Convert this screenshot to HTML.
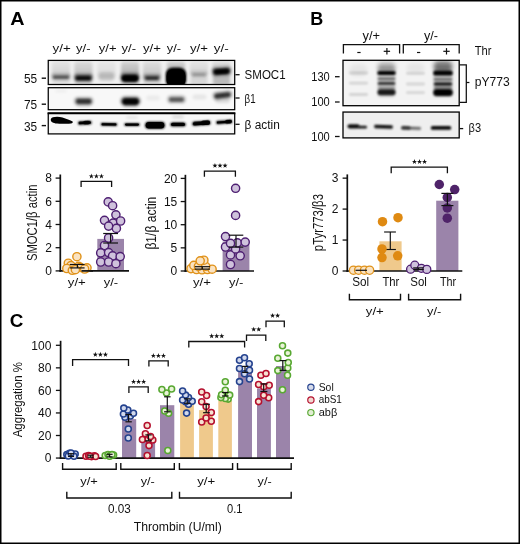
<!DOCTYPE html>
<html><head><meta charset="utf-8"><title>Figure</title>
<style>html,body{margin:0;padding:0;background:#fff;}svg{display:block;will-change:transform;font-family:'Liberation Sans', sans-serif;}</style>
</head><body>
<svg width="520" height="544" viewBox="0 0 520 544">
<defs>
<filter id="b05" x="-50%" y="-100%" width="200%" height="300%"><feGaussianBlur stdDeviation="0.5"/></filter>
<filter id="b08" x="-50%" y="-100%" width="200%" height="300%"><feGaussianBlur stdDeviation="0.8"/></filter>
<filter id="b1" x="-50%" y="-100%" width="200%" height="300%"><feGaussianBlur stdDeviation="1.0"/></filter>
<filter id="b15" x="-50%" y="-100%" width="200%" height="300%"><feGaussianBlur stdDeviation="1.5"/></filter>
<filter id="b2" x="-50%" y="-100%" width="200%" height="300%"><feGaussianBlur stdDeviation="2.0"/></filter>
<filter id="b3" x="-50%" y="-100%" width="200%" height="300%"><feGaussianBlur stdDeviation="3.0"/></filter>
<clipPath id="cA1"><rect x="48.25" y="60.4" width="186.45" height="24.1"/></clipPath>
<clipPath id="cA2"><rect x="48.25" y="87.7" width="186.45" height="22"/></clipPath>
<clipPath id="cA3"><rect x="48.25" y="113" width="186.45" height="20.9"/></clipPath>
<clipPath id="cB1"><rect x="343" y="60.3" width="116.2" height="45.4"/></clipPath>
<clipPath id="cB2"><rect x="343" y="112.05" width="116.2" height="25.85"/></clipPath>
<linearGradient id="sg" x1="0" y1="0" x2="0" y2="1"><stop offset="0" stop-color="#000" stop-opacity="0.25"/><stop offset="0.55" stop-color="#000" stop-opacity="0.45"/><stop offset="1" stop-color="#000" stop-opacity="1"/></linearGradient>
</defs>
<rect x="0" y="0" width="520" height="544" fill="#fff"/>
<rect x="48.25" y="60.4" width="186.45" height="24.1" fill="#f0f0f0" stroke="none" stroke-width="0"/>
<g clip-path="url(#cA1)">
<rect x="52" y="61.5" width="18" height="16.0" rx="3" fill="url(#sg)" opacity="0.22" filter="url(#b15)"/>
<rect x="74.4" y="61.5" width="18" height="17.0" rx="3" fill="url(#sg)" opacity="0.36" filter="url(#b15)"/>
<rect x="97.5" y="61.5" width="18" height="17.0" rx="3" fill="url(#sg)" opacity="0.14" filter="url(#b15)"/>
<rect x="121" y="61.5" width="18" height="17.0" rx="3" fill="url(#sg)" opacity="0.5" filter="url(#b15)"/>
<rect x="143" y="61.5" width="18" height="17.0" rx="3" fill="url(#sg)" opacity="0.3" filter="url(#b15)"/>
<rect x="167" y="61.5" width="18" height="15.5" rx="3" fill="url(#sg)" opacity="0.5" filter="url(#b15)"/>
<rect x="190" y="61.5" width="18" height="14.0" rx="3" fill="url(#sg)" opacity="0.2" filter="url(#b15)"/>
<rect x="212.5" y="61.5" width="18" height="10.5" rx="3" fill="url(#sg)" opacity="0.3" filter="url(#b15)"/>
<rect x="52.5" y="78.0" width="17" height="7" rx="2" fill="#000" opacity="0.06" filter="url(#b15)"/>
<rect x="74.9" y="79.0" width="17" height="6" rx="2" fill="#000" opacity="0.12" filter="url(#b15)"/>
<rect x="121.5" y="79.0" width="17" height="6" rx="2" fill="#000" opacity="0.15" filter="url(#b15)"/>
<rect x="143.5" y="79.0" width="17" height="6" rx="2" fill="#000" opacity="0.1" filter="url(#b15)"/>
<rect x="190.5" y="76.0" width="17" height="9" rx="2" fill="#000" opacity="0.1" filter="url(#b15)"/>
<rect x="213.0" y="73.0" width="17" height="12" rx="2" fill="#000" opacity="0.22" filter="url(#b15)"/>
<rect x="51.25" y="74.05" width="19.5" height="6.1" rx="3.05" fill="#000" opacity="0.275" filter="url(#b15)"/>
<rect x="53.25" y="76.0" width="15.5" height="2.5999999999999996" rx="1.2999999999999998" fill="#000" opacity="0.5" filter="url(#b08)"/>
<rect x="73.9" y="74.35" width="19.0" height="7.3" rx="3.65" fill="#000" opacity="0.5060000000000001" filter="url(#b15)"/>
<rect x="75.9" y="76.3" width="15.0" height="3.8" rx="1.9" fill="#000" opacity="0.92" filter="url(#b08)"/>
<rect x="99.0" y="72.0" width="15" height="9" rx="3" fill="#000" opacity="0.13" filter="url(#b15)"/>
<rect x="120.25" y="73.5" width="19.5" height="9.2" rx="4.6" fill="#000" opacity="0.55" filter="url(#b15)"/>
<rect x="122.25" y="75.45" width="15.5" height="5.7" rx="2.85" fill="#000" opacity="1" filter="url(#b08)"/>
<rect x="122.5" y="76.05" width="15" height="4.5" rx="2.25" fill="#000" opacity="0.9" filter="url(#b08)"/>
<rect x="143.5" y="74.75" width="17.0" height="6.3" rx="3.15" fill="#000" opacity="0.396" filter="url(#b15)"/>
<rect x="145.5" y="76.7" width="13.0" height="2.8" rx="1.4" fill="#000" opacity="0.72" filter="url(#b08)"/>
<rect x="165.75" y="67.5" width="20.5" height="20" rx="7" fill="#000" opacity="1" filter="url(#b1)"/>
<rect x="166.5" y="69.0" width="19" height="18" rx="7" fill="#000" opacity="1" filter="url(#b05)"/>
<rect x="190.25" y="71.25" width="17.5" height="6.5" rx="3.25" fill="#000" opacity="0.099" filter="url(#b15)"/>
<rect x="192.25" y="73.2" width="13.5" height="3" rx="1.5" fill="#000" opacity="0.18" filter="url(#b08)"/>
<rect x="211.75" y="67.35000000000001" width="19.5" height="8.1" rx="4.05" fill="#000" opacity="0.5335" filter="url(#b15)" transform="rotate(-4 221.5 71.4)"/>
<rect x="213.75" y="69.30000000000001" width="15.5" height="4.6" rx="2.3" fill="#000" opacity="0.97" filter="url(#b08)" transform="rotate(-4 221.5 71.60000000000001)"/>
<rect x="214.5" y="69.65" width="14" height="3.5" rx="1.75" fill="#000" opacity="0.7" filter="url(#b08)" transform="rotate(-4 221.5 71.4)"/>
</g>
<rect x="48.25" y="60.4" width="186.45" height="24.1" fill="none" stroke="#000" stroke-width="1.25"/>
<rect x="48.25" y="87.7" width="186.45" height="22.0" fill="#f8f8f8" stroke="none" stroke-width="0"/>
<g clip-path="url(#cA2)">
<rect x="74.2" y="97.15" width="19.0" height="8.1" rx="4.05" fill="#000" opacity="0.37400000000000005" filter="url(#b15)"/>
<rect x="76.2" y="99.10000000000001" width="15.0" height="4.6" rx="2.3" fill="#000" opacity="0.68" filter="url(#b08)"/>
<rect x="120.5" y="96.45" width="20.0" height="9.5" rx="4.75" fill="#000" opacity="0.5225" filter="url(#b15)"/>
<rect x="122.5" y="98.4" width="16.0" height="6" rx="3.0" fill="#000" opacity="0.95" filter="url(#b08)"/>
<rect x="123.5" y="99.4" width="14" height="4" rx="2.0" fill="#000" opacity="0.5" filter="url(#b08)"/>
<rect x="167.25" y="95.45" width="18.5" height="7.9" rx="3.95" fill="#000" opacity="0.275" filter="url(#b15)"/>
<rect x="169.25" y="97.4" width="14.5" height="4.4" rx="2.2" fill="#000" opacity="0.5" filter="url(#b08)"/>
<rect x="212.75" y="91.35000000000001" width="19.5" height="7.7" rx="3.85" fill="#000" opacity="0.385" filter="url(#b15)" transform="rotate(-7 222.5 95.2)"/>
<rect x="214.75" y="93.30000000000001" width="15.5" height="4.2" rx="2.1" fill="#000" opacity="0.7" filter="url(#b08)" transform="rotate(-7 222.5 95.4)"/>
<rect x="215.0" y="97.0" width="15" height="6" rx="3.0" fill="#000" opacity="0.12" filter="url(#b15)"/>
<rect x="76.7" y="104.0" width="14" height="3" rx="1.5" fill="#000" opacity="0.08" filter="url(#b15)"/>
<rect x="123.5" y="104.5" width="14" height="3" rx="1.5" fill="#000" opacity="0.1" filter="url(#b15)"/>
<rect x="146.0" y="95.5" width="14" height="5" rx="2.5" fill="#000" opacity="0.05" filter="url(#b15)"/>
<rect x="192.5" y="94.5" width="14" height="5" rx="2.5" fill="#000" opacity="0.07" filter="url(#b15)"/>
<rect x="55.0" y="89.5" width="12" height="3" rx="1.5" fill="#000" opacity="0.04" filter="url(#b15)"/>
</g>
<rect x="48.25" y="87.7" width="186.45" height="22.0" fill="none" stroke="#000" stroke-width="1.25"/>
<rect x="48.25" y="113.0" width="186.45" height="20.9" fill="#f7f7f7" stroke="none" stroke-width="0"/>
<g clip-path="url(#cA3)">
<path d="M50.8,119.2 C51.5,116.6 58,116.2 62.5,117.6 C66,118.8 70.5,120.6 72.6,121.6 C73.2,122.4 72.5,123.4 71,123.4 C67,123.6 62,124.2 57,123.6 C53,123 50.4,121.8 50.8,119.2 Z" fill="#000" filter="url(#b05)"/>
<path d="M51.8,119.4 C52.5,117.4 58,117.2 62,118.4 C66,119.6 69.5,121 71.6,122 C68,122.8 62,123.4 57,122.8 C54,122.4 51.6,121.2 51.8,119.4 Z" fill="#000"/>
<rect x="77.8" y="121.2" width="14" height="3.2" rx="1.6" fill="#000" opacity="1" filter="url(#b08)" transform="rotate(-3 84.8 122.8)"/>
<rect x="78.55" y="121.5" width="12.5" height="2.6" rx="1.3" fill="#000" opacity="1" filter="url(#b05)" transform="rotate(-3 84.8 122.8)"/>
<rect x="83.0" y="120.69999999999999" width="7" height="3.8" rx="1.9" fill="#000" opacity="0.9" filter="url(#b05)" transform="rotate(-3 86.5 122.6)"/>
<rect x="100.75" y="122.95" width="16.5" height="2.9" rx="1.45" fill="#000" opacity="1" filter="url(#b08)" transform="rotate(1 109 124.4)"/>
<rect x="101.5" y="123.25" width="15.0" height="2.3" rx="1.15" fill="#000" opacity="1" filter="url(#b05)" transform="rotate(1 109 124.4)"/>
<rect x="124.25" y="123.14999999999999" width="15.5" height="2.9" rx="1.45" fill="#000" opacity="1" filter="url(#b08)"/>
<rect x="125.0" y="123.44999999999999" width="14.0" height="2.3" rx="1.15" fill="#000" opacity="1" filter="url(#b05)"/>
<rect x="126.0" y="116.0" width="12" height="3" rx="1.5" fill="#000" opacity="0.07" filter="url(#b15)"/>
<rect x="145.0" y="121.7" width="20" height="7.0" rx="3.5" fill="#000" opacity="1" filter="url(#b08)"/>
<rect x="145.75" y="122.0" width="18.5" height="6.4" rx="3.2" fill="#000" opacity="1" filter="url(#b05)"/>
<rect x="170.25" y="122.4" width="15.5" height="4.0" rx="2.0" fill="#000" opacity="1" filter="url(#b08)"/>
<rect x="171.0" y="122.7" width="14.0" height="3.4" rx="1.7" fill="#000" opacity="1" filter="url(#b05)"/>
<rect x="172.0" y="115.05" width="12" height="3.5" rx="1.75" fill="#000" opacity="0.1" filter="url(#b15)"/>
<rect x="192.15" y="121.3" width="18.5" height="4.0" rx="2.0" fill="#000" opacity="1" filter="url(#b08)" transform="rotate(-4 201.4 123.3)"/>
<rect x="192.9" y="121.6" width="17.0" height="3.4" rx="1.7" fill="#000" opacity="1" filter="url(#b05)" transform="rotate(-4 201.4 123.3)"/>
<rect x="201.0" y="120.5" width="9" height="4.6" rx="2.3" fill="#000" opacity="1" filter="url(#b05)" transform="rotate(-4 205.5 122.8)"/>
<rect x="215.95" y="120.6" width="16.5" height="3.0" rx="1.5" fill="#000" opacity="1" filter="url(#b08)" transform="rotate(-4 224.2 122.1)"/>
<rect x="216.7" y="120.89999999999999" width="15.0" height="2.4" rx="1.2" fill="#000" opacity="1" filter="url(#b05)" transform="rotate(-4 224.2 122.1)"/>
<rect x="225.0" y="119.8" width="7" height="3.6" rx="1.8" fill="#000" opacity="1" filter="url(#b05)" transform="rotate(-6 228.5 121.6)"/>
</g>
<rect x="48.25" y="113.0" width="186.45" height="20.9" fill="none" stroke="#000" stroke-width="1.25"/>
<line x1="47.6" y1="113.4" x2="235.3" y2="113.4" stroke="#000" stroke-width="1.9" stroke-linecap="butt"/>
<text x="52.5" y="52.1" font-size="11" text-anchor="start" font-weight="normal" fill="#111" textLength="18.2" lengthAdjust="spacingAndGlyphs" >y/+</text>
<text x="76" y="52.1" font-size="11" text-anchor="start" font-weight="normal" fill="#111" textLength="14.5" lengthAdjust="spacingAndGlyphs" >y/-</text>
<text x="98.75" y="52.1" font-size="11" text-anchor="start" font-weight="normal" fill="#111" textLength="17.75" lengthAdjust="spacingAndGlyphs" >y/+</text>
<text x="121.5" y="52.1" font-size="11" text-anchor="start" font-weight="normal" fill="#111" textLength="14.5" lengthAdjust="spacingAndGlyphs" >y/-</text>
<text x="143" y="52.1" font-size="11" text-anchor="start" font-weight="normal" fill="#111" textLength="18" lengthAdjust="spacingAndGlyphs" >y/+</text>
<text x="166.75" y="52.1" font-size="11" text-anchor="start" font-weight="normal" fill="#111" textLength="14.25" lengthAdjust="spacingAndGlyphs" >y/-</text>
<text x="190" y="52.1" font-size="11" text-anchor="start" font-weight="normal" fill="#111" textLength="18" lengthAdjust="spacingAndGlyphs" >y/+</text>
<text x="213.75" y="52.1" font-size="11" text-anchor="start" font-weight="normal" fill="#111" textLength="15.0" lengthAdjust="spacingAndGlyphs" >y/-</text>
<text x="37.2" y="83.2" font-size="12" text-anchor="end" font-weight="normal" fill="#111" textLength="13.2" lengthAdjust="spacingAndGlyphs" >55</text>
<text x="37.2" y="108.9" font-size="12" text-anchor="end" font-weight="normal" fill="#111" textLength="13.2" lengthAdjust="spacingAndGlyphs" >75</text>
<text x="37.2" y="130.6" font-size="12" text-anchor="end" font-weight="normal" fill="#111" textLength="13.2" lengthAdjust="spacingAndGlyphs" >35</text>
<line x1="41.7" y1="78.2" x2="46" y2="78.2" stroke="#111" stroke-width="1.4" stroke-linecap="butt"/>
<line x1="41.7" y1="104.2" x2="46" y2="104.2" stroke="#111" stroke-width="1.4" stroke-linecap="butt"/>
<line x1="41.7" y1="125.6" x2="46" y2="125.6" stroke="#111" stroke-width="1.4" stroke-linecap="butt"/>
<line x1="235.4" y1="74.7" x2="239.6" y2="74.7" stroke="#111" stroke-width="1.3" stroke-linecap="butt"/>
<line x1="235.4" y1="98" x2="239.6" y2="98" stroke="#111" stroke-width="1.3" stroke-linecap="butt"/>
<line x1="235.4" y1="124.3" x2="239.6" y2="124.3" stroke="#111" stroke-width="1.3" stroke-linecap="butt"/>
<text x="244.6" y="79" font-size="12" text-anchor="start" font-weight="normal" fill="#111" textLength="41" lengthAdjust="spacingAndGlyphs" >SMOC1</text>
<text x="244.6" y="102.7" font-size="12" text-anchor="start" font-weight="normal" fill="#111" textLength="11" lengthAdjust="spacingAndGlyphs" >&#946;1</text>
<text x="244.6" y="128.7" font-size="12" text-anchor="start" font-weight="normal" fill="#111" textLength="35.2" lengthAdjust="spacingAndGlyphs" >&#946; actin</text>
<text x="10.2" y="25" font-size="17.5" text-anchor="start" font-weight="bold" fill="#000" textLength="14.3" lengthAdjust="spacingAndGlyphs" >A</text>
<text x="310.2" y="25" font-size="17.5" text-anchor="start" font-weight="bold" fill="#000" textLength="13.0" lengthAdjust="spacingAndGlyphs" >B</text>
<text x="9.8" y="326.6" font-size="17.5" text-anchor="start" font-weight="bold" fill="#000" textLength="13.6" lengthAdjust="spacingAndGlyphs" >C</text>
<rect x="63.5" y="266.608" width="26.0" height="4.29" fill="#EFC98C" stroke="none" stroke-width="0"/>
<rect x="97.3" y="238.9" width="26.7" height="32.0" fill="#9B84AA" stroke="none" stroke-width="0"/>
<line x1="60.3" y1="174.5" x2="60.3" y2="271.75" stroke="#111" stroke-width="1.7" stroke-linecap="butt"/>
<line x1="59.449999999999996" y1="270.9" x2="129" y2="270.9" stroke="#111" stroke-width="1.7" stroke-linecap="butt"/>
<line x1="55.599999999999994" y1="270.9" x2="60.3" y2="270.9" stroke="#111" stroke-width="1.3" stroke-linecap="butt"/>
<text x="52" y="275.2" font-size="12" text-anchor="end" font-weight="normal" fill="#111" >0</text>
<line x1="55.599999999999994" y1="247.7" x2="60.3" y2="247.7" stroke="#111" stroke-width="1.3" stroke-linecap="butt"/>
<text x="52" y="252.0" font-size="12" text-anchor="end" font-weight="normal" fill="#111" >2</text>
<line x1="55.599999999999994" y1="224.49999999999997" x2="60.3" y2="224.49999999999997" stroke="#111" stroke-width="1.3" stroke-linecap="butt"/>
<text x="52" y="228.79999999999998" font-size="12" text-anchor="end" font-weight="normal" fill="#111" >4</text>
<line x1="55.599999999999994" y1="201.29999999999998" x2="60.3" y2="201.29999999999998" stroke="#111" stroke-width="1.3" stroke-linecap="butt"/>
<text x="52" y="205.6" font-size="12" text-anchor="end" font-weight="normal" fill="#111" >6</text>
<line x1="55.599999999999994" y1="178.09999999999997" x2="60.3" y2="178.09999999999997" stroke="#111" stroke-width="1.3" stroke-linecap="butt"/>
<text x="52" y="182.39999999999998" font-size="12" text-anchor="end" font-weight="normal" fill="#111" >8</text>
<circle cx="76.9" cy="256.7" r="4.1" fill="#FAE3C2" stroke="#E0921A" stroke-width="1.4"/>
<circle cx="68.3" cy="263.2" r="4.1" fill="#FAE3C2" stroke="#E0921A" stroke-width="1.4"/>
<circle cx="71" cy="265.6" r="4.1" fill="#FAE3C2" stroke="#E0921A" stroke-width="1.4"/>
<circle cx="78.6" cy="266.4" r="4.1" fill="#FAE3C2" stroke="#E0921A" stroke-width="1.4"/>
<circle cx="66.8" cy="268.5" r="4.1" fill="#FAE3C2" stroke="#E0921A" stroke-width="1.4"/>
<circle cx="80.3" cy="267.4" r="4.1" fill="#FAE3C2" stroke="#E0921A" stroke-width="1.4"/>
<circle cx="87" cy="267.8" r="4.1" fill="#FAE3C2" stroke="#E0921A" stroke-width="1.4"/>
<circle cx="72.3" cy="270.3" r="4.1" fill="#FAE3C2" stroke="#E0921A" stroke-width="1.4"/>
<circle cx="75.4" cy="269.7" r="4.1" fill="#FAE3C2" stroke="#E0921A" stroke-width="1.4"/>
<circle cx="84.6" cy="269" r="4.1" fill="#FAE3C2" stroke="#E0921A" stroke-width="1.4"/>
<circle cx="108.2" cy="201.9" r="4.1" fill="#CFC2DC" stroke="#4E1F72" stroke-width="1.4"/>
<circle cx="112.6" cy="205.7" r="4.1" fill="#CFC2DC" stroke="#4E1F72" stroke-width="1.4"/>
<circle cx="115.9" cy="214.8" r="4.1" fill="#CFC2DC" stroke="#4E1F72" stroke-width="1.4"/>
<circle cx="113.1" cy="223.1" r="4.1" fill="#CFC2DC" stroke="#4E1F72" stroke-width="1.4"/>
<circle cx="104.5" cy="220.3" r="4.1" fill="#CFC2DC" stroke="#4E1F72" stroke-width="1.4"/>
<circle cx="120.6" cy="221" r="4.1" fill="#CFC2DC" stroke="#4E1F72" stroke-width="1.4"/>
<circle cx="116.4" cy="228.4" r="4.1" fill="#CFC2DC" stroke="#4E1F72" stroke-width="1.4"/>
<circle cx="108.6" cy="226.1" r="4.1" fill="#CFC2DC" stroke="#4E1F72" stroke-width="1.4"/>
<circle cx="108.6" cy="238" r="4.1" fill="#CFC2DC" stroke="#4E1F72" stroke-width="1.4"/>
<circle cx="104.5" cy="245.5" r="4.1" fill="#CFC2DC" stroke="#4E1F72" stroke-width="1.4"/>
<circle cx="100.7" cy="252.9" r="4.1" fill="#CFC2DC" stroke="#4E1F72" stroke-width="1.4"/>
<circle cx="108.6" cy="252.6" r="4.1" fill="#CFC2DC" stroke="#4E1F72" stroke-width="1.4"/>
<circle cx="112.6" cy="255.9" r="4.1" fill="#CFC2DC" stroke="#4E1F72" stroke-width="1.4"/>
<circle cx="120.2" cy="256.6" r="4.1" fill="#CFC2DC" stroke="#4E1F72" stroke-width="1.4"/>
<circle cx="100.7" cy="262" r="4.1" fill="#CFC2DC" stroke="#4E1F72" stroke-width="1.4"/>
<circle cx="108.6" cy="262" r="4.1" fill="#CFC2DC" stroke="#4E1F72" stroke-width="1.4"/>
<circle cx="115.9" cy="263.7" r="4.1" fill="#CFC2DC" stroke="#4E1F72" stroke-width="1.4"/>
<line x1="81.5" y1="270.9" x2="93" y2="270.9" stroke="#111" stroke-width="1.7" stroke-linecap="butt"/>
<line x1="77.4" y1="264.5" x2="77.4" y2="267.9" stroke="#111" stroke-width="1.2" stroke-linecap="butt"/>
<line x1="69.8" y1="264.5" x2="84.6" y2="264.5" stroke="#111" stroke-width="1.2" stroke-linecap="butt"/>
<line x1="69.8" y1="267.9" x2="84.6" y2="267.9" stroke="#111" stroke-width="1.2" stroke-linecap="butt"/>
<line x1="110.6" y1="233.5" x2="110.6" y2="243" stroke="#111" stroke-width="1.2" stroke-linecap="butt"/>
<line x1="103.2" y1="233.5" x2="118" y2="233.5" stroke="#111" stroke-width="1.2" stroke-linecap="butt"/>
<line x1="103.2" y1="243" x2="118" y2="243" stroke="#111" stroke-width="1.2" stroke-linecap="butt"/>
<path d="M81.1,187.1 V181.4 H111.6 V187.1" stroke="#111" stroke-width="1.3" fill="none"/>
<polygon points="91.35,173.56 91.98,175.38 93.92,175.42 92.38,176.59 92.94,178.44 91.35,177.34 89.76,178.44 90.32,176.59 88.78,175.42 90.72,175.38" fill="#111"/>
<polygon points="96.40,173.56 97.03,175.38 98.97,175.42 97.43,176.59 97.99,178.44 96.40,177.34 94.81,178.44 95.37,176.59 93.83,175.42 95.77,175.38" fill="#111"/>
<polygon points="101.45,173.56 102.08,175.38 104.02,175.42 102.48,176.59 103.04,178.44 101.45,177.34 99.86,178.44 100.42,176.59 98.88,175.42 100.82,175.38" fill="#111"/>
<text x="67.8" y="286.0" font-size="10.6" text-anchor="start" font-weight="normal" fill="#111" textLength="18" lengthAdjust="spacingAndGlyphs" >y/+</text>
<text x="103.7" y="286.0" font-size="10.6" text-anchor="start" font-weight="normal" fill="#111" textLength="14.4" lengthAdjust="spacingAndGlyphs" >y/-</text>
<text transform="translate(36.7,222.85) rotate(-90)" font-size="14" text-anchor="middle" fill="#111" textLength="76.5" lengthAdjust="spacingAndGlyphs">SMOC1/&#946; actin</text>
<rect x="188.5" y="268.222" width="26.5" height="2.78" fill="#EFC98C" stroke="none" stroke-width="0"/>
<rect x="222.6" y="241.6" width="26.8" height="29.4" fill="#9B84AA" stroke="none" stroke-width="0"/>
<line x1="185.4" y1="174.8" x2="185.4" y2="271.85" stroke="#111" stroke-width="1.7" stroke-linecap="butt"/>
<line x1="184.55" y1="271.0" x2="254" y2="271.0" stroke="#111" stroke-width="1.7" stroke-linecap="butt"/>
<line x1="180.70000000000002" y1="271.0" x2="185.4" y2="271.0" stroke="#111" stroke-width="1.3" stroke-linecap="butt"/>
<text x="177.3" y="275.3" font-size="12" text-anchor="end" font-weight="normal" fill="#111" >0</text>
<line x1="180.70000000000002" y1="247.85" x2="185.4" y2="247.85" stroke="#111" stroke-width="1.3" stroke-linecap="butt"/>
<text x="177.3" y="252.15" font-size="12" text-anchor="end" font-weight="normal" fill="#111" >5</text>
<line x1="180.70000000000002" y1="224.7" x2="185.4" y2="224.7" stroke="#111" stroke-width="1.3" stroke-linecap="butt"/>
<text x="177.3" y="229.0" font-size="12" text-anchor="end" font-weight="normal" fill="#111" >10</text>
<line x1="180.70000000000002" y1="201.55" x2="185.4" y2="201.55" stroke="#111" stroke-width="1.3" stroke-linecap="butt"/>
<text x="177.3" y="205.85000000000002" font-size="12" text-anchor="end" font-weight="normal" fill="#111" >15</text>
<line x1="180.70000000000002" y1="178.4" x2="185.4" y2="178.4" stroke="#111" stroke-width="1.3" stroke-linecap="butt"/>
<text x="177.3" y="182.70000000000002" font-size="12" text-anchor="end" font-weight="normal" fill="#111" >20</text>
<circle cx="191" cy="268.6" r="4.1" fill="#FAE3C2" stroke="#E0921A" stroke-width="1.4"/>
<circle cx="196.5" cy="269.5" r="4.1" fill="#FAE3C2" stroke="#E0921A" stroke-width="1.4"/>
<circle cx="202" cy="269.8" r="4.1" fill="#FAE3C2" stroke="#E0921A" stroke-width="1.4"/>
<circle cx="207.5" cy="269.5" r="4.1" fill="#FAE3C2" stroke="#E0921A" stroke-width="1.4"/>
<circle cx="212.1" cy="269.2" r="4.1" fill="#FAE3C2" stroke="#E0921A" stroke-width="1.4"/>
<circle cx="193.8" cy="265.4" r="4.1" fill="#FAE3C2" stroke="#E0921A" stroke-width="1.4"/>
<circle cx="198.4" cy="266.3" r="4.1" fill="#FAE3C2" stroke="#E0921A" stroke-width="1.4"/>
<circle cx="205.7" cy="266.3" r="4.1" fill="#FAE3C2" stroke="#E0921A" stroke-width="1.4"/>
<circle cx="203.9" cy="260.2" r="4.1" fill="#FAE3C2" stroke="#E0921A" stroke-width="1.4"/>
<circle cx="200.2" cy="260.8" r="4.1" fill="#FAE3C2" stroke="#E0921A" stroke-width="1.4"/>
<circle cx="230.5" cy="264.5" r="4.1" fill="#CFC2DC" stroke="#4E1F72" stroke-width="1.4"/>
<circle cx="240.2" cy="255.8" r="4.1" fill="#CFC2DC" stroke="#4E1F72" stroke-width="1.4"/>
<circle cx="230.5" cy="254.9" r="4.1" fill="#CFC2DC" stroke="#4E1F72" stroke-width="1.4"/>
<circle cx="235.6" cy="248.9" r="4.1" fill="#CFC2DC" stroke="#4E1F72" stroke-width="1.4"/>
<circle cx="225.5" cy="247" r="4.1" fill="#CFC2DC" stroke="#4E1F72" stroke-width="1.4"/>
<circle cx="237.3" cy="242.8" r="4.1" fill="#CFC2DC" stroke="#4E1F72" stroke-width="1.4"/>
<circle cx="230.5" cy="243.3" r="4.1" fill="#CFC2DC" stroke="#4E1F72" stroke-width="1.4"/>
<circle cx="245.2" cy="242.1" r="4.1" fill="#CFC2DC" stroke="#4E1F72" stroke-width="1.4"/>
<circle cx="225.5" cy="236.6" r="4.1" fill="#CFC2DC" stroke="#4E1F72" stroke-width="1.4"/>
<circle cx="235.6" cy="215.4" r="4.1" fill="#CFC2DC" stroke="#4E1F72" stroke-width="1.4"/>
<circle cx="235.6" cy="188.3" r="4.1" fill="#CFC2DC" stroke="#4E1F72" stroke-width="1.4"/>
<line x1="202.3" y1="266.7" x2="202.3" y2="269.1" stroke="#111" stroke-width="1.2" stroke-linecap="butt"/>
<line x1="194.8" y1="266.7" x2="210" y2="266.7" stroke="#111" stroke-width="1.2" stroke-linecap="butt"/>
<line x1="194.8" y1="269.1" x2="210" y2="269.1" stroke="#111" stroke-width="1.2" stroke-linecap="butt"/>
<line x1="236" y1="235.2" x2="236" y2="247.1" stroke="#111" stroke-width="1.2" stroke-linecap="butt"/>
<line x1="228.7" y1="235.2" x2="243.3" y2="235.2" stroke="#111" stroke-width="1.2" stroke-linecap="butt"/>
<line x1="228.7" y1="247.1" x2="243.3" y2="247.1" stroke="#111" stroke-width="1.2" stroke-linecap="butt"/>
<path d="M204.4,176.8 V171.1 H235.4 V176.8" stroke="#111" stroke-width="1.3" fill="none"/>
<polygon points="214.95,162.91 215.58,164.73 217.52,164.77 215.98,165.94 216.54,167.79 214.95,166.69 213.36,167.79 213.92,165.94 212.38,164.77 214.32,164.73" fill="#111"/>
<polygon points="220.00,162.91 220.63,164.73 222.57,164.77 221.03,165.94 221.59,167.79 220.00,166.69 218.41,167.79 218.97,165.94 217.43,164.77 219.37,164.73" fill="#111"/>
<polygon points="225.05,162.91 225.68,164.73 227.62,164.77 226.08,165.94 226.64,167.79 225.05,166.69 223.46,167.79 224.02,165.94 222.48,164.77 224.42,164.73" fill="#111"/>
<text x="193" y="286.0" font-size="10.6" text-anchor="start" font-weight="normal" fill="#111" textLength="18" lengthAdjust="spacingAndGlyphs" >y/+</text>
<text x="229" y="286.0" font-size="10.6" text-anchor="start" font-weight="normal" fill="#111" textLength="14.4" lengthAdjust="spacingAndGlyphs" >y/-</text>
<text transform="translate(155.9,223.15) rotate(-90)" font-size="14.5" text-anchor="middle" fill="#111" textLength="52.9" lengthAdjust="spacingAndGlyphs">&#946;1/&#946; actin</text>
<rect x="343.0" y="60.3" width="116.2" height="45.4" fill="#f3f3f3" stroke="none" stroke-width="0"/>
<g clip-path="url(#cB1)">
<rect x="349.0" y="71.6" width="19" height="2.8" rx="1.4" fill="#000" opacity="0.13" filter="url(#b1)"/>
<rect x="349.0" y="81.8" width="19" height="2.8" rx="1.4" fill="#000" opacity="0.13" filter="url(#b1)"/>
<rect x="349.0" y="93.1" width="19" height="2.8" rx="1.4" fill="#000" opacity="0.13" filter="url(#b1)"/>
<rect x="349.5" y="64.0" width="18" height="12" rx="6.0" fill="#000" opacity="0.05" filter="url(#b2)"/>
<rect x="377.5" y="62.5" width="18" height="9" rx="4.5" fill="#000" opacity="0.3" filter="url(#b2)"/>
<rect x="377.5" y="67.0" width="18" height="30" rx="3" fill="#000" opacity="0.16" filter="url(#b15)"/>
<rect x="377.25" y="70.9" width="18.5" height="4.2" rx="2.1" fill="#000" opacity="1" filter="url(#b08)"/>
<rect x="377.75" y="77.5" width="17.5" height="2.4" rx="1.2" fill="#000" opacity="0.5" filter="url(#b08)"/>
<rect x="377.75" y="81.80000000000001" width="17.5" height="3.2" rx="1.6" fill="#000" opacity="0.72" filter="url(#b08)"/>
<rect x="378.0" y="86.5" width="17" height="3" rx="1.5" fill="#000" opacity="0.25" filter="url(#b1)"/>
<rect x="377.5" y="89.2" width="18" height="6" rx="3.0" fill="#000" opacity="0.88" filter="url(#b1)"/>
<rect x="406.0" y="72.0" width="19" height="2.8" rx="1.4" fill="#000" opacity="0.12" filter="url(#b1)"/>
<rect x="406.0" y="82.6" width="19" height="2.8" rx="1.4" fill="#000" opacity="0.12" filter="url(#b1)"/>
<rect x="406.0" y="91.19999999999999" width="19" height="2.8" rx="1.4" fill="#000" opacity="0.12" filter="url(#b1)"/>
<rect x="406.5" y="63.0" width="18" height="10" rx="5.0" fill="#000" opacity="0.05" filter="url(#b2)"/>
<rect x="433.5" y="61.0" width="19" height="10" rx="5.0" fill="#000" opacity="0.5" filter="url(#b2)"/>
<rect x="433.5" y="67.0" width="19" height="30" rx="3" fill="#000" opacity="0.2" filter="url(#b15)"/>
<rect x="433.25" y="70.4" width="19.5" height="5.2" rx="2.6" fill="#000" opacity="1" filter="url(#b08)"/>
<rect x="433.75" y="78.30000000000001" width="18.5" height="2.2" rx="1.1" fill="#000" opacity="0.5" filter="url(#b08)"/>
<rect x="433.75" y="82.2" width="18.5" height="3.6" rx="1.8" fill="#000" opacity="0.85" filter="url(#b08)"/>
<rect x="434.0" y="86.5" width="18" height="3" rx="1.5" fill="#000" opacity="0.35" filter="url(#b1)"/>
<rect x="433.25" y="89.1" width="19.5" height="7" rx="3.5" fill="#000" opacity="1" filter="url(#b08)"/>
</g>
<rect x="343.0" y="60.3" width="116.2" height="45.4" fill="none" stroke="#000" stroke-width="1.3"/>
<rect x="343.0" y="112.05" width="116.2" height="25.85" fill="#efefef" stroke="none" stroke-width="0"/>
<g clip-path="url(#cB2)">
<rect x="347.5" y="124.2" width="12" height="4.2" rx="2.1" fill="#000" opacity="0.95" filter="url(#b08)"/>
<rect x="358.0" y="125.8" width="9" height="2.8" rx="1.4" fill="#000" opacity="0.9" filter="url(#b08)"/>
<rect x="374.0" y="125.1" width="19" height="3.4" rx="1.7" fill="#000" opacity="0.95" filter="url(#b08)" transform="rotate(2 383.5 126.8)"/>
<rect x="401.0" y="126.79999999999998" width="20" height="2.8" rx="1.4" fill="#000" opacity="0.6" filter="url(#b08)" transform="rotate(2 411 128.2)"/>
<rect x="401.5" y="126.30000000000001" width="9" height="3.2" rx="1.6" fill="#000" opacity="0.6" filter="url(#b08)" transform="rotate(2 406 127.9)"/>
<rect x="430.75" y="126.0" width="20.5" height="3.8" rx="1.9" fill="#000" opacity="0.97" filter="url(#b08)"/>
</g>
<rect x="343.0" y="112.05" width="116.2" height="25.85" fill="none" stroke="#000" stroke-width="1.3"/>
<text x="329.8" y="81" font-size="12" text-anchor="end" font-weight="normal" fill="#111" textLength="18.5" lengthAdjust="spacingAndGlyphs" >130</text>
<text x="329.8" y="106.3" font-size="12" text-anchor="end" font-weight="normal" fill="#111" textLength="18.5" lengthAdjust="spacingAndGlyphs" >100</text>
<text x="329.8" y="140.8" font-size="12" text-anchor="end" font-weight="normal" fill="#111" textLength="18.5" lengthAdjust="spacingAndGlyphs" >100</text>
<line x1="335" y1="76.7" x2="339.6" y2="76.7" stroke="#111" stroke-width="1.3" stroke-linecap="butt"/>
<line x1="335" y1="102" x2="339.6" y2="102" stroke="#111" stroke-width="1.3" stroke-linecap="butt"/>
<line x1="335" y1="136.5" x2="339.6" y2="136.5" stroke="#111" stroke-width="1.3" stroke-linecap="butt"/>
<text x="362.5" y="39.7" font-size="12" text-anchor="start" font-weight="normal" fill="#111" textLength="17.5" lengthAdjust="spacingAndGlyphs" >y/+</text>
<text x="424" y="39.7" font-size="12" text-anchor="start" font-weight="normal" fill="#111" textLength="14" lengthAdjust="spacingAndGlyphs" >y/-</text>
<path d="M343.4,53.4 V44.7 H399.6 V53.4" stroke="#111" stroke-width="1.3" fill="none"/>
<path d="M403.3,53.4 V44.7 H459.2 V53.4" stroke="#111" stroke-width="1.3" fill="none"/>
<line x1="357.3" y1="52.5" x2="360.6" y2="52.5" stroke="#111" stroke-width="1.2" stroke-linecap="butt"/>
<line x1="417" y1="52.5" x2="420.3" y2="52.5" stroke="#111" stroke-width="1.2" stroke-linecap="butt"/>
<line x1="383.7" y1="51.3" x2="390.09999999999997" y2="51.3" stroke="#111" stroke-width="1.2" stroke-linecap="butt"/>
<line x1="386.9" y1="48.1" x2="386.9" y2="54.5" stroke="#111" stroke-width="1.2" stroke-linecap="butt"/>
<line x1="443.3" y1="51.3" x2="449.7" y2="51.3" stroke="#111" stroke-width="1.2" stroke-linecap="butt"/>
<line x1="446.5" y1="48.1" x2="446.5" y2="54.5" stroke="#111" stroke-width="1.2" stroke-linecap="butt"/>
<text x="474.7" y="55.2" font-size="12" text-anchor="start" font-weight="normal" fill="#111" textLength="16.7" lengthAdjust="spacingAndGlyphs" >Thr</text>
<path d="M459.8,64.8 H466.3 V102.4 H459.8" stroke="#111" stroke-width="1.25" fill="none"/>
<line x1="466.3" y1="82.5" x2="469.4" y2="82.5" stroke="#111" stroke-width="1.25" stroke-linecap="butt"/>
<text x="474.8" y="86.4" font-size="12" text-anchor="start" font-weight="normal" fill="#111" textLength="35" lengthAdjust="spacingAndGlyphs" >pY773</text>
<line x1="459.9" y1="128.6" x2="463.2" y2="128.6" stroke="#111" stroke-width="1.3" stroke-linecap="butt"/>
<text x="468.6" y="132" font-size="12" text-anchor="start" font-weight="normal" fill="#111" textLength="12.5" lengthAdjust="spacingAndGlyphs" >&#946;3</text>
<rect x="379.4" y="241.3" width="22.2" height="29.7" fill="#EFC98C" stroke="none" stroke-width="0"/>
<rect x="436.2" y="200.7" width="22.2" height="70.3" fill="#9B84AA" stroke="none" stroke-width="0"/>
<line x1="347.3" y1="174.4" x2="347.3" y2="271.85" stroke="#111" stroke-width="1.7" stroke-linecap="butt"/>
<line x1="346.45" y1="271.0" x2="462.3" y2="271.0" stroke="#111" stroke-width="1.7" stroke-linecap="butt"/>
<line x1="342.6" y1="271.0" x2="347.3" y2="271.0" stroke="#111" stroke-width="1.3" stroke-linecap="butt"/>
<text x="338.4" y="275.3" font-size="12" text-anchor="end" font-weight="normal" fill="#111" >0</text>
<line x1="342.6" y1="240.05" x2="347.3" y2="240.05" stroke="#111" stroke-width="1.3" stroke-linecap="butt"/>
<text x="338.4" y="244.35000000000002" font-size="12" text-anchor="end" font-weight="normal" fill="#111" >1</text>
<line x1="342.6" y1="209.1" x2="347.3" y2="209.1" stroke="#111" stroke-width="1.3" stroke-linecap="butt"/>
<text x="338.4" y="213.4" font-size="12" text-anchor="end" font-weight="normal" fill="#111" >2</text>
<line x1="342.6" y1="178.15" x2="347.3" y2="178.15" stroke="#111" stroke-width="1.3" stroke-linecap="butt"/>
<text x="338.4" y="182.45000000000002" font-size="12" text-anchor="end" font-weight="normal" fill="#111" >3</text>
<circle cx="353.5" cy="270.2" r="4.1" fill="#FAE3C2" stroke="#E0921A" stroke-width="1.3"/>
<circle cx="358.6" cy="270.2" r="4.1" fill="#FAE3C2" stroke="#E0921A" stroke-width="1.3"/>
<circle cx="364.5" cy="270.2" r="4.1" fill="#FAE3C2" stroke="#E0921A" stroke-width="1.3"/>
<circle cx="369.6" cy="270.2" r="4.1" fill="#FAE3C2" stroke="#E0921A" stroke-width="1.3"/>
<line x1="355.5" y1="270.3" x2="367" y2="270.3" stroke="#111" stroke-width="1.2" stroke-linecap="butt"/>
<line x1="390.3" y1="232" x2="390.3" y2="249.5" stroke="#111" stroke-width="1.15" stroke-linecap="butt"/>
<line x1="384.1" y1="232" x2="395.9" y2="232" stroke="#111" stroke-width="1.15" stroke-linecap="butt"/>
<line x1="384.1" y1="249.5" x2="395.9" y2="249.5" stroke="#111" stroke-width="1.15" stroke-linecap="butt"/>
<circle cx="382.5" cy="221.7" r="4.75" fill="#DF8A12" stroke="none" stroke-width="0"/>
<circle cx="398" cy="217.7" r="4.75" fill="#DF8A12" stroke="none" stroke-width="0"/>
<circle cx="382" cy="248.9" r="4.75" fill="#DF8A12" stroke="none" stroke-width="0"/>
<circle cx="382" cy="257.6" r="4.75" fill="#DF8A12" stroke="none" stroke-width="0"/>
<circle cx="397.7" cy="255.8" r="4.75" fill="#DF8A12" stroke="none" stroke-width="0"/>
<circle cx="410.6" cy="269.2" r="4.0" fill="#CFC2DC" stroke="#4E1F72" stroke-width="1.3"/>
<circle cx="414.8" cy="265.2" r="4.0" fill="#CFC2DC" stroke="#4E1F72" stroke-width="1.3"/>
<circle cx="421.4" cy="268.3" r="4.0" fill="#CFC2DC" stroke="#4E1F72" stroke-width="1.3"/>
<circle cx="426.8" cy="269.4" r="4.0" fill="#CFC2DC" stroke="#4E1F72" stroke-width="1.3"/>
<line x1="418.6" y1="267.9" x2="418.6" y2="269.6" stroke="#111" stroke-width="1.2" stroke-linecap="butt"/>
<line x1="413.2" y1="267.9" x2="423.8" y2="267.9" stroke="#111" stroke-width="1.2" stroke-linecap="butt"/>
<line x1="413.2" y1="269.6" x2="423.8" y2="269.6" stroke="#111" stroke-width="1.2" stroke-linecap="butt"/>
<circle cx="439.3" cy="184.5" r="4.75" fill="#4F2369" stroke="none" stroke-width="0"/>
<circle cx="454.7" cy="189.6" r="4.75" fill="#4F2369" stroke="none" stroke-width="0"/>
<circle cx="447.3" cy="197.4" r="4.75" fill="#4F2369" stroke="none" stroke-width="0"/>
<circle cx="447.3" cy="207.9" r="4.75" fill="#4F2369" stroke="none" stroke-width="0"/>
<circle cx="447.3" cy="218.2" r="4.75" fill="#4F2369" stroke="none" stroke-width="0"/>
<line x1="447.4" y1="193.4" x2="447.4" y2="205.6" stroke="#111" stroke-width="1.2" stroke-linecap="butt"/>
<line x1="441.4" y1="193.4" x2="453.4" y2="193.4" stroke="#111" stroke-width="1.2" stroke-linecap="butt"/>
<line x1="441.4" y1="205.6" x2="453.4" y2="205.6" stroke="#111" stroke-width="1.2" stroke-linecap="butt"/>
<path d="M391.2,173.2 V167.2 H447.4 V173.2" stroke="#111" stroke-width="1.3" fill="none"/>
<polygon points="414.45,159.06 415.08,160.88 417.02,160.92 415.48,162.09 416.04,163.94 414.45,162.84 412.86,163.94 413.42,162.09 411.88,160.92 413.82,160.88" fill="#111"/>
<polygon points="419.50,159.06 420.13,160.88 422.07,160.92 420.53,162.09 421.09,163.94 419.50,162.84 417.91,163.94 418.47,162.09 416.93,160.92 418.87,160.88" fill="#111"/>
<polygon points="424.55,159.06 425.18,160.88 427.12,160.92 425.58,162.09 426.14,163.94 424.55,162.84 422.96,163.94 423.52,162.09 421.98,160.92 423.92,160.88" fill="#111"/>
<text x="352.3" y="285.6" font-size="12" text-anchor="start" font-weight="normal" fill="#111" textLength="16.9" lengthAdjust="spacingAndGlyphs" >Sol</text>
<text x="382.4" y="285.6" font-size="12" text-anchor="start" font-weight="normal" fill="#111" textLength="17" lengthAdjust="spacingAndGlyphs" >Thr</text>
<text x="410.3" y="285.6" font-size="12" text-anchor="start" font-weight="normal" fill="#111" textLength="16.6" lengthAdjust="spacingAndGlyphs" >Sol</text>
<text x="440.0" y="285.6" font-size="12" text-anchor="start" font-weight="normal" fill="#111" textLength="16.2" lengthAdjust="spacingAndGlyphs" >Thr</text>
<path d="M349.4,293.8 V299.7 H400.5 V293.8" stroke="#111" stroke-width="1.4" fill="none"/>
<path d="M408.6,293.8 V299.7 H460.6 V293.8" stroke="#111" stroke-width="1.4" fill="none"/>
<text x="365.8" y="314.7" font-size="11" text-anchor="start" font-weight="normal" fill="#111" textLength="18" lengthAdjust="spacingAndGlyphs" >y/+</text>
<text x="427" y="314.7" font-size="11" text-anchor="start" font-weight="normal" fill="#111" textLength="14.2" lengthAdjust="spacingAndGlyphs" >y/-</text>
<text transform="translate(322.9,222.6) rotate(-90)" font-size="14.5" text-anchor="middle" fill="#111" textLength="57.2" lengthAdjust="spacingAndGlyphs">pTyr773/&#946;3</text>
<rect x="122" y="419.1" width="14.2" height="38.95" fill="#9B84AA" stroke="none" stroke-width="0"/>
<rect x="141.3" y="438.6" width="13.8" height="19.45" fill="#9B84AA" stroke="none" stroke-width="0"/>
<rect x="160" y="405.2" width="14.3" height="52.85" fill="#9B84AA" stroke="none" stroke-width="0"/>
<rect x="180.1" y="402" width="13.8" height="56.05" fill="#EFC98C" stroke="none" stroke-width="0"/>
<rect x="199.1" y="410.1" width="13.8" height="47.95" fill="#EFC98C" stroke="none" stroke-width="0"/>
<rect x="218.3" y="400.8" width="13.6" height="57.25" fill="#EFC98C" stroke="none" stroke-width="0"/>
<rect x="238.1" y="371.2" width="13.9" height="86.85" fill="#9B84AA" stroke="none" stroke-width="0"/>
<rect x="257" y="388.4" width="13.9" height="69.65" fill="#9B84AA" stroke="none" stroke-width="0"/>
<rect x="276" y="366" width="14" height="92.05" fill="#9B84AA" stroke="none" stroke-width="0"/>
<rect x="64.5" y="455.11850000000004" width="13.5" height="2.93" fill="#EFC98C" stroke="none" stroke-width="0"/>
<rect x="83.7" y="456.0205" width="13.7" height="2.03" fill="#EFC98C" stroke="none" stroke-width="0"/>
<rect x="103" y="455.344" width="13.6" height="2.71" fill="#EFC98C" stroke="none" stroke-width="0"/>
<line x1="60.6" y1="340.8" x2="60.6" y2="458.90000000000003" stroke="#111" stroke-width="1.7" stroke-linecap="butt"/>
<line x1="59.75" y1="458.05" x2="294" y2="458.05" stroke="#111" stroke-width="1.7" stroke-linecap="butt"/>
<line x1="55.9" y1="458.05" x2="60.6" y2="458.05" stroke="#111" stroke-width="1.3" stroke-linecap="butt"/>
<text x="51.4" y="462.35" font-size="12" text-anchor="end" font-weight="normal" fill="#111" >0</text>
<line x1="55.9" y1="435.5" x2="60.6" y2="435.5" stroke="#111" stroke-width="1.3" stroke-linecap="butt"/>
<text x="51.4" y="439.8" font-size="12" text-anchor="end" font-weight="normal" fill="#111" >20</text>
<line x1="55.9" y1="412.95000000000005" x2="60.6" y2="412.95000000000005" stroke="#111" stroke-width="1.3" stroke-linecap="butt"/>
<text x="51.4" y="417.25000000000006" font-size="12" text-anchor="end" font-weight="normal" fill="#111" >40</text>
<line x1="55.9" y1="390.40000000000003" x2="60.6" y2="390.40000000000003" stroke="#111" stroke-width="1.3" stroke-linecap="butt"/>
<text x="51.4" y="394.70000000000005" font-size="12" text-anchor="end" font-weight="normal" fill="#111" >60</text>
<line x1="55.9" y1="367.85" x2="60.6" y2="367.85" stroke="#111" stroke-width="1.3" stroke-linecap="butt"/>
<text x="51.4" y="372.15000000000003" font-size="12" text-anchor="end" font-weight="normal" fill="#111" >80</text>
<line x1="55.9" y1="345.3" x2="60.6" y2="345.3" stroke="#111" stroke-width="1.3" stroke-linecap="butt"/>
<text x="51.4" y="349.6" font-size="12" text-anchor="end" font-weight="normal" fill="#111" >100</text>
<circle cx="66.8" cy="454.6" r="3.0" fill="#D2D9EC" stroke="#24428E" stroke-width="1.55"/>
<circle cx="69.5" cy="453.2" r="3.0" fill="#D2D9EC" stroke="#24428E" stroke-width="1.55"/>
<circle cx="72.5" cy="455.2" r="3.0" fill="#D2D9EC" stroke="#24428E" stroke-width="1.55"/>
<circle cx="75.2" cy="454.0" r="3.0" fill="#D2D9EC" stroke="#24428E" stroke-width="1.55"/>
<circle cx="68.2" cy="456.0" r="3.0" fill="#D2D9EC" stroke="#24428E" stroke-width="1.55"/>
<circle cx="74" cy="456.2" r="3.0" fill="#D2D9EC" stroke="#24428E" stroke-width="1.55"/>
<circle cx="71" cy="452.9" r="3.0" fill="#D2D9EC" stroke="#24428E" stroke-width="1.55"/>
<circle cx="86" cy="456.3" r="3.0" fill="#F6E3D3" stroke="#B5102E" stroke-width="1.55"/>
<circle cx="88.6" cy="455.6" r="3.0" fill="#F6E3D3" stroke="#B5102E" stroke-width="1.55"/>
<circle cx="91.5" cy="456.6" r="3.0" fill="#F6E3D3" stroke="#B5102E" stroke-width="1.55"/>
<circle cx="94.4" cy="455.7" r="3.0" fill="#F6E3D3" stroke="#B5102E" stroke-width="1.55"/>
<circle cx="95.6" cy="456.4" r="3.0" fill="#F6E3D3" stroke="#B5102E" stroke-width="1.55"/>
<circle cx="90" cy="456.2" r="3.0" fill="#F6E3D3" stroke="#B5102E" stroke-width="1.55"/>
<circle cx="105.2" cy="455.4" r="3.0" fill="#EAF3D8" stroke="#58A832" stroke-width="1.55"/>
<circle cx="108" cy="454.6" r="3.0" fill="#EAF3D8" stroke="#58A832" stroke-width="1.55"/>
<circle cx="110.6" cy="455.8" r="3.0" fill="#EAF3D8" stroke="#58A832" stroke-width="1.55"/>
<circle cx="113.6" cy="455" r="3.0" fill="#EAF3D8" stroke="#58A832" stroke-width="1.55"/>
<circle cx="109.5" cy="456.3" r="3.0" fill="#EAF3D8" stroke="#58A832" stroke-width="1.55"/>
<circle cx="112" cy="454.6" r="3.0" fill="#EAF3D8" stroke="#58A832" stroke-width="1.55"/>
<line x1="71" y1="453.7" x2="71" y2="456.4" stroke="#111" stroke-width="1.2" stroke-linecap="butt"/>
<line x1="68" y1="453.7" x2="74" y2="453.7" stroke="#111" stroke-width="1.2" stroke-linecap="butt"/>
<line x1="68" y1="456.4" x2="74" y2="456.4" stroke="#111" stroke-width="1.2" stroke-linecap="butt"/>
<line x1="90.7" y1="455.2" x2="90.7" y2="457.2" stroke="#111" stroke-width="1.2" stroke-linecap="butt"/>
<line x1="87.7" y1="455.2" x2="93.7" y2="455.2" stroke="#111" stroke-width="1.2" stroke-linecap="butt"/>
<line x1="87.7" y1="457.2" x2="93.7" y2="457.2" stroke="#111" stroke-width="1.2" stroke-linecap="butt"/>
<line x1="109.6" y1="454.3" x2="109.6" y2="456.9" stroke="#111" stroke-width="1.2" stroke-linecap="butt"/>
<line x1="106.6" y1="454.3" x2="112.6" y2="454.3" stroke="#111" stroke-width="1.2" stroke-linecap="butt"/>
<line x1="106.6" y1="456.9" x2="112.6" y2="456.9" stroke="#111" stroke-width="1.2" stroke-linecap="butt"/>
<circle cx="128.3" cy="438" r="3.0" fill="#D2D9EC" stroke="#24428E" stroke-width="1.55"/>
<circle cx="128.3" cy="428.9" r="3.0" fill="#D2D9EC" stroke="#24428E" stroke-width="1.55"/>
<circle cx="125" cy="417.3" r="3.0" fill="#D2D9EC" stroke="#24428E" stroke-width="1.55"/>
<circle cx="130.4" cy="416" r="3.0" fill="#D2D9EC" stroke="#24428E" stroke-width="1.55"/>
<circle cx="123.4" cy="414" r="3.0" fill="#D2D9EC" stroke="#24428E" stroke-width="1.55"/>
<circle cx="133.5" cy="413.2" r="3.0" fill="#D2D9EC" stroke="#24428E" stroke-width="1.55"/>
<circle cx="127.8" cy="410" r="3.0" fill="#D2D9EC" stroke="#24428E" stroke-width="1.55"/>
<circle cx="123.8" cy="408.1" r="3.0" fill="#D2D9EC" stroke="#24428E" stroke-width="1.55"/>
<line x1="128.6" y1="414.5" x2="128.6" y2="421.8" stroke="#111" stroke-width="1.2" stroke-linecap="butt"/>
<line x1="125.4" y1="414.5" x2="131.8" y2="414.5" stroke="#111" stroke-width="1.2" stroke-linecap="butt"/>
<line x1="125.4" y1="421.8" x2="131.8" y2="421.8" stroke="#111" stroke-width="1.2" stroke-linecap="butt"/>
<circle cx="147.2" cy="455.5" r="3.0" fill="#F6E3D3" stroke="#B5102E" stroke-width="1.55"/>
<circle cx="149" cy="445.6" r="3.0" fill="#F6E3D3" stroke="#B5102E" stroke-width="1.55"/>
<circle cx="142.4" cy="439.4" r="3.0" fill="#F6E3D3" stroke="#B5102E" stroke-width="1.55"/>
<circle cx="152.8" cy="440" r="3.0" fill="#F6E3D3" stroke="#B5102E" stroke-width="1.55"/>
<circle cx="148.2" cy="439.2" r="3.0" fill="#F6E3D3" stroke="#B5102E" stroke-width="1.55"/>
<circle cx="145.4" cy="433.8" r="3.0" fill="#F6E3D3" stroke="#B5102E" stroke-width="1.55"/>
<circle cx="147.2" cy="425.4" r="3.0" fill="#F6E3D3" stroke="#B5102E" stroke-width="1.55"/>
<circle cx="150.5" cy="436.5" r="3.0" fill="#F6E3D3" stroke="#B5102E" stroke-width="1.55"/>
<line x1="148.5" y1="434.9" x2="148.5" y2="440.8" stroke="#111" stroke-width="1.2" stroke-linecap="butt"/>
<line x1="145.3" y1="434.9" x2="151.7" y2="434.9" stroke="#111" stroke-width="1.2" stroke-linecap="butt"/>
<line x1="145.3" y1="440.8" x2="151.7" y2="440.8" stroke="#111" stroke-width="1.2" stroke-linecap="butt"/>
<circle cx="167.8" cy="450.5" r="3.0" fill="#EAF3D8" stroke="#58A832" stroke-width="1.55"/>
<circle cx="168.6" cy="413.2" r="3.0" fill="#EAF3D8" stroke="#58A832" stroke-width="1.55"/>
<circle cx="164.7" cy="411" r="3.0" fill="#EAF3D8" stroke="#58A832" stroke-width="1.55"/>
<circle cx="166.5" cy="393" r="3.0" fill="#EAF3D8" stroke="#58A832" stroke-width="1.55"/>
<circle cx="161.9" cy="389.4" r="3.0" fill="#EAF3D8" stroke="#58A832" stroke-width="1.55"/>
<circle cx="171.6" cy="389" r="3.0" fill="#EAF3D8" stroke="#58A832" stroke-width="1.55"/>
<line x1="167.3" y1="396.8" x2="167.3" y2="411.8" stroke="#111" stroke-width="1.2" stroke-linecap="butt"/>
<line x1="164.1" y1="396.8" x2="170.6" y2="396.8" stroke="#111" stroke-width="1.2" stroke-linecap="butt"/>
<line x1="164.1" y1="411.8" x2="170.6" y2="411.8" stroke="#111" stroke-width="1.2" stroke-linecap="butt"/>
<circle cx="186.6" cy="413.1" r="3.0" fill="#D2D9EC" stroke="#24428E" stroke-width="1.55"/>
<circle cx="188.5" cy="404.3" r="3.0" fill="#D2D9EC" stroke="#24428E" stroke-width="1.55"/>
<circle cx="185.6" cy="401.8" r="3.0" fill="#D2D9EC" stroke="#24428E" stroke-width="1.55"/>
<circle cx="192.2" cy="401.3" r="3.0" fill="#D2D9EC" stroke="#24428E" stroke-width="1.55"/>
<circle cx="182.6" cy="399.9" r="3.0" fill="#D2D9EC" stroke="#24428E" stroke-width="1.55"/>
<circle cx="188.5" cy="397.4" r="3.0" fill="#D2D9EC" stroke="#24428E" stroke-width="1.55"/>
<circle cx="185.6" cy="395.1" r="3.0" fill="#D2D9EC" stroke="#24428E" stroke-width="1.55"/>
<circle cx="182.6" cy="391" r="3.0" fill="#D2D9EC" stroke="#24428E" stroke-width="1.55"/>
<line x1="187.2" y1="398.8" x2="187.2" y2="403.3" stroke="#111" stroke-width="1.2" stroke-linecap="butt"/>
<line x1="184" y1="398.8" x2="190.6" y2="398.8" stroke="#111" stroke-width="1.2" stroke-linecap="butt"/>
<line x1="184" y1="403.3" x2="190.6" y2="403.3" stroke="#111" stroke-width="1.2" stroke-linecap="butt"/>
<circle cx="201.7" cy="421.9" r="3.0" fill="#F6E3D3" stroke="#B5102E" stroke-width="1.55"/>
<circle cx="211.3" cy="421.2" r="3.0" fill="#F6E3D3" stroke="#B5102E" stroke-width="1.55"/>
<circle cx="206.1" cy="417.9" r="3.0" fill="#F6E3D3" stroke="#B5102E" stroke-width="1.55"/>
<circle cx="211.3" cy="412.4" r="3.0" fill="#F6E3D3" stroke="#B5102E" stroke-width="1.55"/>
<circle cx="206.1" cy="406.5" r="3.0" fill="#F6E3D3" stroke="#B5102E" stroke-width="1.55"/>
<circle cx="201.7" cy="401.8" r="3.0" fill="#F6E3D3" stroke="#B5102E" stroke-width="1.55"/>
<circle cx="206.6" cy="395.4" r="3.0" fill="#F6E3D3" stroke="#B5102E" stroke-width="1.55"/>
<circle cx="201.7" cy="392" r="3.0" fill="#F6E3D3" stroke="#B5102E" stroke-width="1.55"/>
<line x1="206.2" y1="404.3" x2="206.2" y2="412.7" stroke="#111" stroke-width="1.2" stroke-linecap="butt"/>
<line x1="203.1" y1="404.3" x2="209.9" y2="404.3" stroke="#111" stroke-width="1.2" stroke-linecap="butt"/>
<line x1="203.1" y1="412.7" x2="209.9" y2="412.7" stroke="#111" stroke-width="1.2" stroke-linecap="butt"/>
<circle cx="228.2" cy="399.1" r="3.0" fill="#EAF3D8" stroke="#58A832" stroke-width="1.55"/>
<circle cx="225.3" cy="398.4" r="3.0" fill="#EAF3D8" stroke="#58A832" stroke-width="1.55"/>
<circle cx="220.9" cy="397.6" r="3.0" fill="#EAF3D8" stroke="#58A832" stroke-width="1.55"/>
<circle cx="229.7" cy="395.1" r="3.0" fill="#EAF3D8" stroke="#58A832" stroke-width="1.55"/>
<circle cx="221.6" cy="394.7" r="3.0" fill="#EAF3D8" stroke="#58A832" stroke-width="1.55"/>
<circle cx="225.3" cy="390.3" r="3.0" fill="#EAF3D8" stroke="#58A832" stroke-width="1.55"/>
<circle cx="225.3" cy="381.8" r="3.0" fill="#EAF3D8" stroke="#58A832" stroke-width="1.55"/>
<line x1="225.3" y1="392.5" x2="225.3" y2="396" stroke="#111" stroke-width="1.2" stroke-linecap="butt"/>
<line x1="222" y1="392.5" x2="228.6" y2="392.5" stroke="#111" stroke-width="1.2" stroke-linecap="butt"/>
<line x1="222" y1="396" x2="228.6" y2="396" stroke="#111" stroke-width="1.2" stroke-linecap="butt"/>
<circle cx="239.5" cy="381.6" r="3.0" fill="#D2D9EC" stroke="#24428E" stroke-width="1.55"/>
<circle cx="249.5" cy="378.9" r="3.0" fill="#D2D9EC" stroke="#24428E" stroke-width="1.55"/>
<circle cx="244.5" cy="373.75" r="3.0" fill="#D2D9EC" stroke="#24428E" stroke-width="1.55"/>
<circle cx="249.5" cy="370.3" r="3.0" fill="#D2D9EC" stroke="#24428E" stroke-width="1.55"/>
<circle cx="239.5" cy="368.4" r="3.0" fill="#D2D9EC" stroke="#24428E" stroke-width="1.55"/>
<circle cx="249.2" cy="363.75" r="3.0" fill="#D2D9EC" stroke="#24428E" stroke-width="1.55"/>
<circle cx="239.5" cy="360.2" r="3.0" fill="#D2D9EC" stroke="#24428E" stroke-width="1.55"/>
<circle cx="244.5" cy="357.8" r="3.0" fill="#D2D9EC" stroke="#24428E" stroke-width="1.55"/>
<line x1="245" y1="366.4" x2="245" y2="372.4" stroke="#111" stroke-width="1.2" stroke-linecap="butt"/>
<line x1="242.1" y1="366.4" x2="248.2" y2="366.4" stroke="#111" stroke-width="1.2" stroke-linecap="butt"/>
<line x1="242.1" y1="372.4" x2="248.2" y2="372.4" stroke="#111" stroke-width="1.2" stroke-linecap="butt"/>
<circle cx="258.6" cy="401.6" r="3.0" fill="#F6E3D3" stroke="#B5102E" stroke-width="1.55"/>
<circle cx="268.7" cy="397.7" r="3.0" fill="#F6E3D3" stroke="#B5102E" stroke-width="1.55"/>
<circle cx="263.7" cy="395.3" r="3.0" fill="#F6E3D3" stroke="#B5102E" stroke-width="1.55"/>
<circle cx="263.7" cy="386.7" r="3.0" fill="#F6E3D3" stroke="#B5102E" stroke-width="1.55"/>
<circle cx="269.2" cy="385.2" r="3.0" fill="#F6E3D3" stroke="#B5102E" stroke-width="1.55"/>
<circle cx="258.6" cy="384.4" r="3.0" fill="#F6E3D3" stroke="#B5102E" stroke-width="1.55"/>
<circle cx="260.9" cy="375.3" r="3.0" fill="#F6E3D3" stroke="#B5102E" stroke-width="1.55"/>
<circle cx="266" cy="373.4" r="3.0" fill="#F6E3D3" stroke="#B5102E" stroke-width="1.55"/>
<line x1="263.7" y1="383.9" x2="263.7" y2="391.5" stroke="#111" stroke-width="1.2" stroke-linecap="butt"/>
<line x1="260.4" y1="383.9" x2="267.4" y2="383.9" stroke="#111" stroke-width="1.2" stroke-linecap="butt"/>
<line x1="260.4" y1="391.5" x2="267.4" y2="391.5" stroke="#111" stroke-width="1.2" stroke-linecap="butt"/>
<circle cx="282.5" cy="389.8" r="3.0" fill="#EAF3D8" stroke="#58A832" stroke-width="1.55"/>
<circle cx="287.5" cy="375.3" r="3.0" fill="#EAF3D8" stroke="#58A832" stroke-width="1.55"/>
<circle cx="277.8" cy="370.6" r="3.0" fill="#EAF3D8" stroke="#58A832" stroke-width="1.55"/>
<circle cx="287.8" cy="368" r="3.0" fill="#EAF3D8" stroke="#58A832" stroke-width="1.55"/>
<circle cx="288.25" cy="362.5" r="3.0" fill="#EAF3D8" stroke="#58A832" stroke-width="1.55"/>
<circle cx="277.8" cy="358.3" r="3.0" fill="#EAF3D8" stroke="#58A832" stroke-width="1.55"/>
<circle cx="287.8" cy="353.1" r="3.0" fill="#EAF3D8" stroke="#58A832" stroke-width="1.55"/>
<circle cx="282.5" cy="345.8" r="3.0" fill="#EAF3D8" stroke="#58A832" stroke-width="1.55"/>
<line x1="282.8" y1="360.6" x2="282.8" y2="370.4" stroke="#111" stroke-width="1.2" stroke-linecap="butt"/>
<line x1="279.6" y1="360.6" x2="286.4" y2="360.6" stroke="#111" stroke-width="1.2" stroke-linecap="butt"/>
<line x1="279.6" y1="370.4" x2="286.4" y2="370.4" stroke="#111" stroke-width="1.2" stroke-linecap="butt"/>
<path d="M72.6,365.9 V359.6 H128.5 V365.9" stroke="#111" stroke-width="1.3" fill="none"/>
<polygon points="95.35,351.86 95.98,353.68 97.92,353.72 96.38,354.89 96.94,356.74 95.35,355.64 93.76,356.74 94.32,354.89 92.78,353.72 94.72,353.68" fill="#111"/>
<polygon points="100.40,351.86 101.03,353.68 102.97,353.72 101.43,354.89 101.99,356.74 100.40,355.64 98.81,356.74 99.37,354.89 97.83,353.72 99.77,353.68" fill="#111"/>
<polygon points="105.45,351.86 106.08,353.68 108.02,353.72 106.48,354.89 107.04,356.74 105.45,355.64 103.86,356.74 104.42,354.89 102.88,353.72 104.82,353.68" fill="#111"/>
<path d="M128.9,393.1 V386.9 H148.2 V393.1" stroke="#111" stroke-width="1.3" fill="none"/>
<polygon points="133.55,379.06 134.18,380.88 136.12,380.92 134.58,382.09 135.14,383.94 133.55,382.84 131.96,383.94 132.52,382.09 130.98,380.92 132.92,380.88" fill="#111"/>
<polygon points="138.60,379.06 139.23,380.88 141.17,380.92 139.63,382.09 140.19,383.94 138.60,382.84 137.01,383.94 137.57,382.09 136.03,380.92 137.97,380.88" fill="#111"/>
<polygon points="143.65,379.06 144.28,380.88 146.22,380.92 144.68,382.09 145.24,383.94 143.65,382.84 142.06,383.94 142.62,382.09 141.08,380.92 143.02,380.88" fill="#111"/>
<path d="M148.9,366.6 V360.8 H168.2 V366.6" stroke="#111" stroke-width="1.3" fill="none"/>
<polygon points="153.35,353.06 153.98,354.88 155.92,354.92 154.38,356.09 154.94,357.94 153.35,356.84 151.76,357.94 152.32,356.09 150.78,354.92 152.72,354.88" fill="#111"/>
<polygon points="158.40,353.06 159.03,354.88 160.97,354.92 159.43,356.09 159.99,357.94 158.40,356.84 156.81,357.94 157.37,356.09 155.83,354.92 157.77,354.88" fill="#111"/>
<polygon points="163.45,353.06 164.08,354.88 166.02,354.92 164.48,356.09 165.04,357.94 163.45,356.84 161.86,357.94 162.42,356.09 160.88,354.92 162.82,354.88" fill="#111"/>
<path d="M188.8,347.6 V341.5 H244.6 V347.6" stroke="#111" stroke-width="1.3" fill="none"/>
<polygon points="211.65,333.36 212.28,335.18 214.22,335.22 212.68,336.39 213.24,338.24 211.65,337.14 210.06,338.24 210.62,336.39 209.08,335.22 211.02,335.18" fill="#111"/>
<polygon points="216.70,333.36 217.33,335.18 219.27,335.22 217.73,336.39 218.29,338.24 216.70,337.14 215.11,338.24 215.67,336.39 214.13,335.22 216.07,335.18" fill="#111"/>
<polygon points="221.75,333.36 222.38,335.18 224.32,335.22 222.78,336.39 223.34,338.24 221.75,337.14 220.16,338.24 220.72,336.39 219.18,335.22 221.12,335.18" fill="#111"/>
<path d="M246.5,341.1 V335.1 H265.8 V341.1" stroke="#111" stroke-width="1.3" fill="none"/>
<polygon points="253.67,326.66 254.31,328.48 256.24,328.52 254.70,329.69 255.26,331.54 253.67,330.44 252.09,331.54 252.65,329.69 251.11,328.52 253.04,328.48" fill="#111"/>
<polygon points="258.72,326.66 259.36,328.48 261.29,328.52 259.75,329.69 260.31,331.54 258.72,330.44 257.14,331.54 257.70,329.69 256.16,328.52 258.09,328.48" fill="#111"/>
<path d="M266,327.3 V321.2 H284.3 V327.3" stroke="#111" stroke-width="1.3" fill="none"/>
<polygon points="272.58,312.96 273.21,314.78 275.14,314.82 273.60,315.99 274.16,317.84 272.58,316.74 270.99,317.84 271.55,315.99 270.01,314.82 271.94,314.78" fill="#111"/>
<polygon points="277.63,312.96 278.26,314.78 280.19,314.82 278.65,315.99 279.21,317.84 277.63,316.74 276.04,317.84 276.60,315.99 275.06,314.82 276.99,314.78" fill="#111"/>
<path d="M62.6,463 V469.2 H116.2 V463" stroke="#111" stroke-width="1.4" fill="none"/>
<path d="M120.8,463 V469.2 H174.3 V463" stroke="#111" stroke-width="1.4" fill="none"/>
<path d="M179.4,463 V469.2 H232.6 V463" stroke="#111" stroke-width="1.4" fill="none"/>
<path d="M237.5,463 V469.2 H291.2 V463" stroke="#111" stroke-width="1.4" fill="none"/>
<text x="80.2" y="484.5" font-size="11" text-anchor="start" font-weight="normal" fill="#111" textLength="17.6" lengthAdjust="spacingAndGlyphs" >y/+</text>
<text x="140.7" y="484.5" font-size="11" text-anchor="start" font-weight="normal" fill="#111" textLength="14.1" lengthAdjust="spacingAndGlyphs" >y/-</text>
<text x="197.2" y="484.5" font-size="11" text-anchor="start" font-weight="normal" fill="#111" textLength="18" lengthAdjust="spacingAndGlyphs" >y/+</text>
<text x="257.6" y="484.5" font-size="11" text-anchor="start" font-weight="normal" fill="#111" textLength="14" lengthAdjust="spacingAndGlyphs" >y/-</text>
<path d="M66.8,491.8 V498 H171.8 V491.8" stroke="#111" stroke-width="1.4" fill="none"/>
<path d="M179.5,491.8 V498 H291.2 V491.8" stroke="#111" stroke-width="1.4" fill="none"/>
<text x="108" y="513" font-size="12" text-anchor="start" font-weight="normal" fill="#111" textLength="22.8" lengthAdjust="spacingAndGlyphs" >0.03</text>
<text x="227" y="513" font-size="12" text-anchor="start" font-weight="normal" fill="#111" textLength="15.5" lengthAdjust="spacingAndGlyphs" >0.1</text>
<text x="133.75" y="530.5" font-size="12" text-anchor="start" font-weight="normal" fill="#111" textLength="88" lengthAdjust="spacingAndGlyphs" >Thrombin (U/ml)</text>
<text transform="translate(22.4,399.65) rotate(-90)" font-size="13.2" text-anchor="middle" fill="#111" textLength="75.3" lengthAdjust="spacingAndGlyphs">Aggregation %</text>
<circle cx="310.9" cy="387.3" r="3.15" fill="#D6DBEB" stroke="#24428E" stroke-width="1.15"/>
<circle cx="310.9" cy="400" r="3.15" fill="#F0D9D2" stroke="#B5102E" stroke-width="1.15"/>
<circle cx="310.9" cy="412.6" r="3.15" fill="#E1EED3" stroke="#58A832" stroke-width="1.15"/>
<text x="318.7" y="390.6" font-size="11.5" text-anchor="start" font-weight="normal" fill="#111" textLength="15" lengthAdjust="spacingAndGlyphs" >Sol</text>
<text x="318.7" y="403.1" font-size="11.5" text-anchor="start" font-weight="normal" fill="#111" textLength="23.2" lengthAdjust="spacingAndGlyphs" >abS1</text>
<text x="318.7" y="415.6" font-size="11.5" text-anchor="start" font-weight="normal" fill="#111" textLength="18.5" lengthAdjust="spacingAndGlyphs" >ab&#946;</text>
<rect x="0.75" y="0.75" width="518.5" height="542.5" fill="none" stroke="#000" stroke-width="1.5"/>
</svg></body></html>
